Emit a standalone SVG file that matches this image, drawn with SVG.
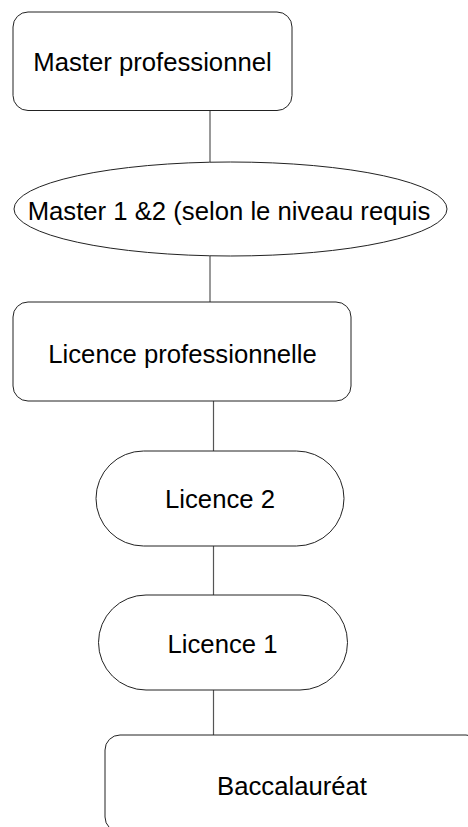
<svg xmlns="http://www.w3.org/2000/svg" width="468" height="827" viewBox="0 0 468 827">
<style>
.s{fill:#fff;stroke:#222;stroke-width:1}
.c{stroke:#555;stroke-width:1.2;fill:none}
text{font-family:"Liberation Sans",Arial,sans-serif;font-size:25.7px;fill:#000;text-anchor:middle}
</style>
<rect width="468" height="827" fill="#fff"/>
<g id="connectors">
<line class="c" x1="210" y1="111" x2="210" y2="162"/>
<line class="c" x1="210" y1="256" x2="210" y2="302"/>
<line class="c" x1="213.5" y1="401" x2="213.5" y2="451"/>
<line class="c" x1="213.5" y1="546" x2="213.5" y2="595"/>
<line class="c" x1="213.5" y1="690" x2="213.5" y2="735"/>
</g>
<g id="master-pro">
<rect class="s" x="13" y="12" width="279" height="98.5" rx="15"/>
<text x="152.5" y="71">Master professionnel</text>
</g>
<g id="master12">
<ellipse class="s" cx="230.5" cy="209" rx="216.5" ry="47"/>
<text x="229" y="220">Master 1 &amp;2 (selon le niveau requis</text>
</g>
<g id="licence-pro">
<rect class="s" x="13" y="302" width="338" height="99" rx="15"/>
<text x="182.5" y="362.5">Licence professionnelle</text>
</g>
<g id="licence2">
<rect class="s" x="96" y="451" width="248" height="95" rx="47.5"/>
<text x="220" y="508">Licence 2</text>
</g>
<g id="licence1">
<rect class="s" x="98.5" y="595" width="249" height="95" rx="47.5"/>
<text x="222.5" y="653">Licence 1</text>
</g>
<g id="bac">
<rect class="s" x="105" y="735" width="376" height="97" rx="15"/>
<text x="292" y="795">Baccalauréat</text>
</g>
</svg>
